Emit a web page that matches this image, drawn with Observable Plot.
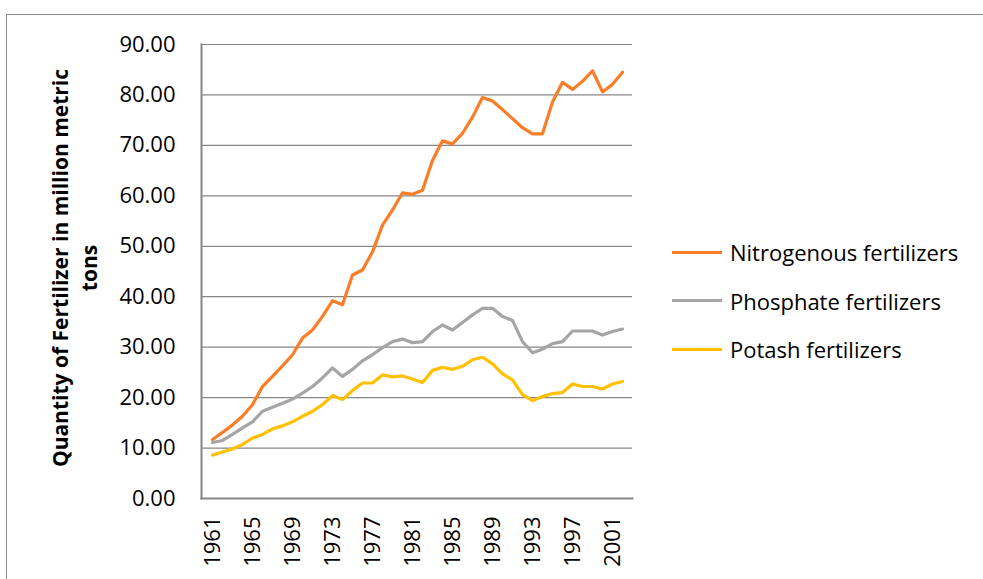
<!DOCTYPE html>
<html>
<head>
<meta charset="utf-8">
<script src="https://cdn.jsdelivr.net/npm/d3@7"></script>
<script src="https://cdn.jsdelivr.net/npm/@observablehq/plot@0.6"></script>
<style>
  html, body { margin: 0; padding: 0; background: #fff; }
  #wrap { position: relative; width: 983px; height: 579px; overflow: hidden; font-family: "Open Sans", "Liberation Sans", sans-serif; }
  #frame { position: absolute; left: 6px; top: 14px; width: 1000px; height: 600px; border: 1px solid #8c8c8c; box-sizing: border-box; }
  #chart { position: absolute; left: 0; top: 0; }
  #ytitle { position: absolute; left: 75px; top: 268px; transform: translate(-50%, -50%) rotate(-90deg); white-space: nowrap; text-align: center; font-weight: bold; font-size: 21px; line-height: 29px; color: #000; }
  #legend { position: absolute; left: 672px; top: 228px; font-size: 22px; color: #000; }
  .item { display: flex; align-items: center; height: 48.5px; }
  .sw { width: 50px; height: 3px; margin-right: 8px; }
</style>
</head>
<body>
<div id="wrap">
  <div id="frame"></div>
  <div id="chart"></div>
  <div id="ytitle">Quantity of Fertilizer in million metric<br>tons</div>
  <div id="legend"></div>
</div>
<script>
const years = d3.range(1961, 2003);
const nitrogen = [11.7,13.1,14.6,16.3,18.6,22.2,24.2,26.3,28.5,31.8,33.4,36.1,39.2,38.4,44.3,45.3,48.9,54.2,57.2,60.6,60.3,61.1,67.0,70.9,70.3,72.4,75.6,79.5,78.8,77.1,75.3,73.5,72.3,72.3,78.6,82.5,81.1,82.7,84.8,80.6,82.1,84.5];
const phosphate = [11.1,11.5,12.7,14.0,15.2,17.3,18.1,18.9,19.7,20.9,22.2,23.9,25.9,24.2,25.6,27.3,28.5,29.9,31.1,31.6,30.9,31.1,33.1,34.4,33.4,34.9,36.4,37.7,37.7,36.1,35.3,31.1,28.9,29.6,30.7,31.1,33.2,33.2,33.2,32.4,33.1,33.6];
const potash = [8.6,9.2,9.8,10.7,12.0,12.7,13.8,14.4,15.2,16.3,17.3,18.6,20.4,19.6,21.4,22.9,22.9,24.5,24.1,24.3,23.7,23.0,25.4,26.0,25.6,26.2,27.5,28.0,26.7,24.7,23.5,20.6,19.4,20.2,20.8,21.0,22.7,22.2,22.2,21.7,22.7,23.2];
const seriesNames = ["Nitrogenous fertilizers", "Phosphate fertilizers", "Potash fertilizers"];
const seriesColors = ["#FA7D28", "#A5A5A5", "#FFC000"];
const yTicks = d3.range(0, 100, 10);
const xTicks = years.filter((d, i) => i % 4 === 0);

const data = [];
[nitrogen, phosphate, potash].forEach((arr, s) => {
  arr.forEach((v, i) => data.push({year: years[i], value: v, series: seriesNames[s]}));
});

const chart = Plot.plot({
  width: 983,
  height: 579,
  marginLeft: 201,
  marginRight: 351,
  marginTop: 44,
  marginBottom: 81,
  style: { fontFamily: "'Open Sans', 'Liberation Sans', sans-serif", fontSize: "22px", color: "#000", background: "transparent" },
  x: { type: "point", domain: years, padding: 0.5, ticks: xTicks, tickFormat: d => String(d), tickSize: 0, tickRotate: -90, tickPadding: 18, label: null },
  y: { domain: [0, 90], ticks: yTicks, tickFormat: d3.format(".2f"), tickSize: 0, tickPadding: 26, label: null },
  color: { domain: seriesNames, range: seriesColors },
  marks: [
    Plot.gridY(yTicks, { stroke: "#868686", strokeOpacity: 1, strokeWidth: 1.2 }),
    Plot.frame({ anchor: "left", stroke: "#868686", strokeWidth: 2 }),
    Plot.frame({ anchor: "bottom", stroke: "#868686", strokeWidth: 2 }),
    Plot.lineY(data, { x: "year", y: "value", z: "series", stroke: "series", strokeWidth: 3.2, strokeLinejoin: "round", strokeLinecap: "round" })
  ]
});
document.getElementById("chart").appendChild(chart);

const legend = document.getElementById("legend");
seriesNames.forEach((n, i) => {
  const item = document.createElement("div");
  item.className = "item";
  item.innerHTML = `<div class="sw" style="background:${seriesColors[i]}"></div><span>${n}</span>`;
  legend.appendChild(item);
});
</script>
</body>
</html>
